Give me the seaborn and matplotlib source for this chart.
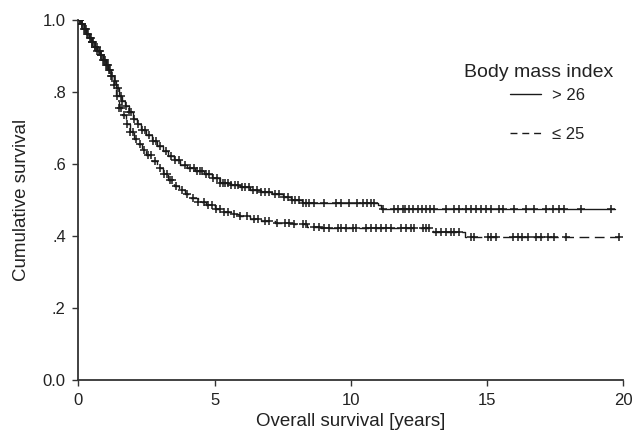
import numpy as np
import pandas as pd
import seaborn as sns
import matplotlib
matplotlib.use("Agg")
import matplotlib.pyplot as plt
from matplotlib.lines import Line2D

# step data: time (years) and survival after each step
hiTimes = [0.0, 0.1, 0.2, 0.3, 0.4, 0.5, 0.6, 0.7, 0.8, 0.9, 1.0, 1.1, 1.2, 1.3, 1.4,
           1.5, 1.6, 1.7, 1.85, 2.0, 2.15, 2.3, 2.5, 2.7, 2.9, 3.1, 3.3, 3.5, 3.75,
           4.0, 4.3, 4.6, 4.9, 5.2, 5.6, 5.95, 6.3, 6.7, 7.1, 7.5, 7.8, 8.2, 11.0,
           11.1, 19.7]
hiSurv = [1.0, 0.99, 0.975, 0.96, 0.95, 0.94, 0.926, 0.915, 0.903, 0.89, 0.875, 0.86,
          0.845, 0.83, 0.812, 0.79, 0.775, 0.762, 0.745, 0.725, 0.71, 0.695, 0.68,
          0.665, 0.65, 0.635, 0.622, 0.61, 0.597, 0.59, 0.58, 0.572, 0.562, 0.548,
          0.541, 0.535, 0.528, 0.522, 0.516, 0.507, 0.50, 0.493, 0.485, 0.474, 0.474]

loTimes = [0.0, 0.1, 0.2, 0.3, 0.4, 0.5, 0.6, 0.7, 0.8, 0.9, 1.0, 1.1, 1.2, 1.3, 1.4,
           1.5, 1.6, 1.75, 1.9, 2.05, 2.2, 2.35, 2.5, 2.7, 2.9, 3.1, 3.3, 3.5, 3.7,
           3.9, 4.1, 4.4, 4.7, 5.0, 5.3, 5.6, 5.9, 6.3, 6.7, 7.2, 7.9, 8.4, 8.9,
           13.0, 14.2, 19.85]
loSurv = [1.0, 0.99, 0.975, 0.96, 0.95, 0.94, 0.926, 0.915, 0.903, 0.89, 0.875, 0.86,
          0.845, 0.82, 0.79, 0.755, 0.735, 0.71, 0.69, 0.67, 0.655, 0.64, 0.625, 0.607,
          0.59, 0.572, 0.556, 0.54, 0.528, 0.516, 0.505, 0.495, 0.485, 0.476, 0.468,
          0.462, 0.455, 0.448, 0.442, 0.437, 0.433, 0.425, 0.421, 0.412, 0.396, 0.396]

# censored observations (years)
hiCensor = [0.05, 0.12, 0.2, 0.28, 0.35, 0.42, 0.5, 0.55, 0.62, 0.7, 0.78, 0.85, 0.95,
            1.02, 1.08, 1.15, 1.25, 1.35, 1.45, 1.55, 1.62, 1.75, 1.85, 1.95, 2.05,
            2.2, 2.35, 2.45, 2.6, 2.75, 2.85, 3.0, 3.2, 3.4, 3.55, 3.7, 3.9, 4.1,
            4.25, 4.35, 4.45, 4.55, 4.7, 4.8, 4.95, 5.1, 5.2, 5.3, 5.4, 5.5, 5.6,
            5.75, 5.85, 6.0, 6.1, 6.25, 6.4, 6.55, 6.7, 6.85, 7.0, 7.2, 7.35, 7.55,
            7.7, 7.85, 7.95, 8.1, 8.23, 8.35, 8.47, 8.65, 9.02, 9.44, 9.63, 9.94,
            10.24, 10.43, 10.61, 10.73, 10.85, 11.17, 11.6, 11.75, 11.9, 12.0, 12.15,
            12.3, 12.45, 12.6, 12.75, 12.9, 13.05, 13.49, 13.8, 13.98, 14.23, 14.41,
            14.59, 14.78, 14.96, 15.14, 15.45, 15.57, 16.0, 16.43, 16.73, 17.16,
            17.41, 17.65, 17.83, 18.45, 19.55]
loCensor = [0.08, 0.15, 0.25, 0.32, 0.45, 0.52, 0.6, 0.68, 0.75, 0.82, 0.9, 0.98, 1.05,
            1.12, 1.2, 1.32, 1.42, 1.5, 1.58, 1.68, 1.8, 1.9, 2.0, 2.1, 2.25, 2.4,
            2.55, 2.65, 2.8, 3.0, 3.15, 3.25, 3.35, 3.45, 3.6, 3.8, 4.0, 4.2, 4.4,
            4.6, 4.75, 4.9, 5.05, 5.2, 5.35, 5.5, 5.7, 5.95, 6.2, 6.45, 6.6, 6.85,
            7.0, 7.3, 7.6, 7.75, 7.9, 8.23, 8.35, 8.66, 8.84, 9.03, 9.21, 9.52, 9.64,
            9.82, 10.07, 10.19, 10.56, 10.74, 10.92, 11.11, 11.29, 11.47, 11.84,
            12.02, 12.21, 12.33, 12.64, 12.76, 12.88, 13.13, 13.31, 13.49, 13.67,
            13.8, 13.98, 14.41, 14.53, 15.02, 15.14, 15.32, 15.94, 16.12, 16.3,
            16.49, 16.79, 16.98, 17.22, 17.47, 17.9, 19.85]

xTicks = [0, 5, 10, 15, 20]
yTicks = [0.0, 0.2, 0.4, 0.6, 0.8, 1.0]
yTickLabels = ["0.0", ".2", ".4", ".6", ".8", "1.0"]


def censorFrame(times, surv, cens):
    # survival level at each censored time, taken from the step curve
    idx = np.searchsorted(times, cens, side="right") - 1
    return pd.DataFrame({"time": cens, "surv": np.array(surv)[idx]})


sns.set_style("white")
plt.rcParams["font.family"] = ["Liberation Sans", "DejaVu Sans"]
ink = "#1a1a1a"
txt = "#222222"

fig = plt.figure(figsize=(6.33, 4.38), dpi=100)
ax = fig.add_axes([0.1237, 0.1324, 0.861, 0.8219])

hiDf = pd.DataFrame({"time": hiTimes, "surv": hiSurv})
loDf = pd.DataFrame({"time": loTimes, "surv": loSurv})
sns.lineplot(data=hiDf, x="time", y="surv", drawstyle="steps-post", color=ink,
             linewidth=1.0, estimator=None, ax=ax)
sns.lineplot(data=loDf, x="time", y="surv", drawstyle="steps-post", color=ink,
             linewidth=1.0, estimator=None, linestyle=(0, (7, 4)), ax=ax)

for df in (censorFrame(hiTimes, hiSurv, hiCensor), censorFrame(loTimes, loSurv, loCensor)):
    sns.scatterplot(data=df, x="time", y="surv", marker="+", s=30, color=ink,
                    linewidth=1.1, ax=ax, zorder=3)

ax.set_xlim(0, 20)
ax.set_ylim(0, 1.0)
ax.set_xticks(xTicks)
ax.set_yticks(yTicks)
ax.set_yticklabels(yTickLabels)
ax.set_xlabel("Overall survival [years]", fontsize=13.5, color=txt, labelpad=4)
ax.set_ylabel("Cumulative survival", fontsize=13.5, color=txt, labelpad=9)
ax.tick_params(axis="both", direction="out", length=4, width=1, color="#333333",
               labelsize=12, labelcolor=txt)
ax.tick_params(axis="y", pad=5)
ax.tick_params(axis="x", pad=5)
ax.xaxis.set_ticks_position("bottom")
ax.yaxis.set_ticks_position("left")
sns.despine(ax=ax)
for side in ("left", "bottom"):
    ax.spines[side].set_color("#333333")
    ax.spines[side].set_linewidth(1.3)

# legend: title as text, entries as a legend beneath it
ax.text(0.8445, 0.853, "Body mass index", transform=ax.transAxes, ha="center",
        va="center", fontsize=14, color=txt)
handles = [Line2D([], [], color=ink, lw=1.0),
           Line2D([], [], color=ink, lw=1.0, linestyle=(0, (5, 3.5)))]
leg = ax.legend(handles, ["> 26", "\u2264 25"], loc="upper left",
                bbox_to_anchor=(0.792, 0.812), frameon=False, fontsize=12,
                handlelength=1.85, labelspacing=1.45, borderaxespad=0, borderpad=0,
                handletextpad=0.65)
for t in leg.get_texts():
    t.set_color(txt)

fig.savefig("out.png", dpi=100)
